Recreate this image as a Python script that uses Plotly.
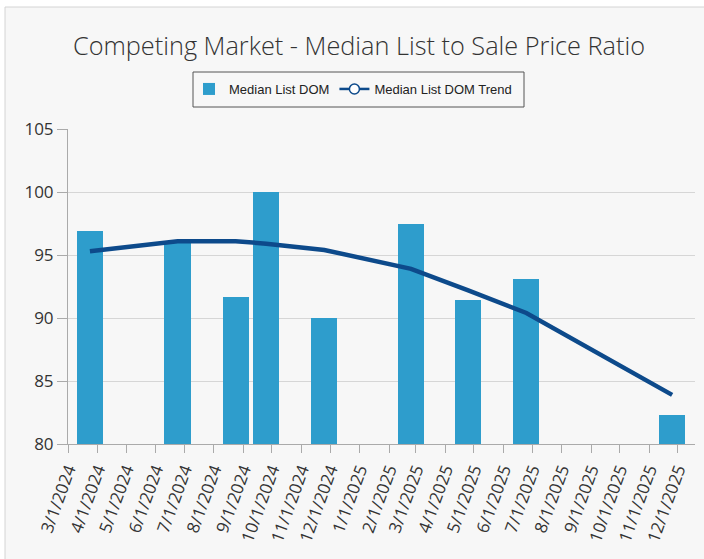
import plotly.graph_objects as go

# ---- data ----
bar_dates = ["2024-03-24", "2024-06-24", "2024-08-24", "2024-09-25", "2024-11-25",
             "2025-02-24", "2025-04-25", "2025-06-25", "2025-11-25"]
median_list_dom = [96.9, 96.0, 91.7, 100.0, 90.0, 97.5, 91.4, 93.1, 82.3]
trend_values = [95.3, 96.1, 96.1, 95.9, 95.4, 93.9, 92.2, 90.4, 83.9]

tick_dates = ["2024-03-01", "2024-04-01", "2024-05-01", "2024-06-01", "2024-07-01",
              "2024-08-01", "2024-09-01", "2024-10-01", "2024-11-01", "2024-12-01",
              "2025-01-01", "2025-02-01", "2025-03-01", "2025-04-01", "2025-05-01",
              "2025-06-01", "2025-07-01", "2025-08-01", "2025-09-01", "2025-10-01",
              "2025-11-01", "2025-12-01"]
tick_labels = ["3/1/2024", "4/1/2024", "5/1/2024", "6/1/2024", "7/1/2024", "8/1/2024",
               "9/1/2024", "10/1/2024", "11/1/2024", "12/1/2024", "1/1/2025", "2/1/2025",
               "3/1/2025", "4/1/2025", "5/1/2025", "6/1/2025", "7/1/2025", "8/1/2025",
               "9/1/2025", "10/1/2025", "11/1/2025", "12/1/2025"]
y_ticks = [80, 85, 90, 95, 100, 105]

BAR_COLOR = "#2e9dcc"
LINE_COLOR = "#0d4a8b"
DAY_MS = 86400000

# plot area in pixels: left 68, right 695, top 129, bottom 444
PL, PR, PT, PB = 68, 695, 129, 444
PW, PH = PR - PL, PB - PT


def px_x(X):
    return (X - PL) / PW


def px_y(Y):
    return (PB - Y) / PH


fig = go.Figure()
fig.add_trace(go.Bar(
    x=bar_dates, y=median_list_dom, name="Median List DOM",
    marker=dict(color=BAR_COLOR, line=dict(width=0)),
    width=[27.5 * DAY_MS] * len(bar_dates),
))
fig.add_trace(go.Scatter(
    x=bar_dates, y=trend_values, mode="lines", name="Median List DOM Trend",
    line=dict(color=LINE_COLOR, width=4.5), showlegend=False,
))
# legend-only entry to show line + open circle symbol
fig.add_trace(go.Scatter(
    x=[None], y=[None], mode="lines+markers", name="Median List DOM Trend",
    line=dict(color=LINE_COLOR, width=2.5),
    marker=dict(symbol="circle", size=10, color="white",
                line=dict(color=LINE_COLOR, width=1.5)),
))

fig.update_layout(
    width=704, height=559,
    margin=dict(l=PL, r=704 - PR, t=PT, b=559 - PB, autoexpand=False),
    paper_bgcolor="white",
    plot_bgcolor="rgba(0,0,0,0)",
    title=dict(text="Competing Market - Median List to Sale Price Ratio",
               x=359 / 704, xref="container", xanchor="center",
               y=1 - 46 / 559, yref="container", yanchor="middle",
               font=dict(family="Open Sans", size=25.3, color="#333333", weight=300)),
    legend=dict(orientation="h", x=px_x(353), xanchor="center", y=px_y(89), yanchor="middle",
                bgcolor="rgba(0,0,0,0)", borderwidth=0,
                font=dict(family="Liberation Sans", size=13, color="#222222"),
                itemwidth=30),
    bargap=0,
    showlegend=True,
    shapes=[
        dict(type="rect", xref="paper", yref="paper",
             x0=px_x(5), x1=px_x(712), y0=px_y(580), y1=px_y(7),
             fillcolor="#f7f7f7", line=dict(color="#d4d4d4", width=1),
             layer="below"),
        dict(type="rect", xref="paper", yref="paper",
             x0=px_x(193), x1=px_x(524), y0=px_y(107), y1=px_y(72),
             fillcolor="rgba(0,0,0,0)", line=dict(color="#555555", width=1),
             layer="above"),
    ],
)

fig.update_xaxes(
    type="date", range=["2024-03-01", "2025-12-19"], automargin=False,
    tickmode="array", tickvals=tick_dates, ticktext=tick_labels,
    tickangle=-70, ticks="outside", ticklen=8, tickcolor="#aaaaaa",
    showline=True, linecolor="#aaaaaa", linewidth=1, showgrid=False,
    tickfont=dict(family="Open Sans", size=17, color="#333333"),
)
fig.update_yaxes(
    range=[80, 105], tickmode="array", tickvals=y_ticks, automargin=False,
    ticks="outside", ticklen=10, tickcolor="#aaaaaa",
    showline=True, linecolor="#aaaaaa", linewidth=1,
    showgrid=True, gridcolor="#d6d6d6", gridwidth=1, zeroline=False,
    tickfont=dict(family="Open Sans", size=17, color="#333333"),
)

fig.write_html("out.html", config={"displayModeBar": False},
               post_script="document.body.style.margin='0px';document.body.style.overflow='hidden';")
